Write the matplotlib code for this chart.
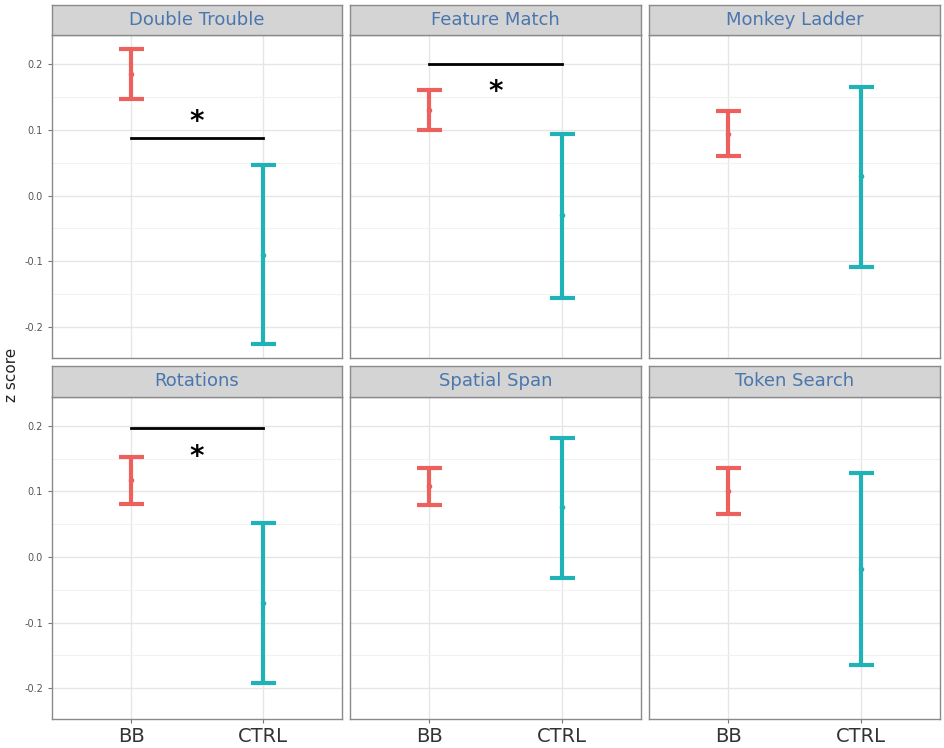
import matplotlib
matplotlib.use("Agg")
import matplotlib.pyplot as plt
import numpy as np

# data
tasks = ["Double Trouble", "Feature Match", "Monkey Ladder",
         "Rotations", "Spatial Span", "Token Search"]
groups = ["BB", "CTRL"]

bb_mean = [0.185, 0.130, 0.094, 0.117, 0.108, 0.101]
bb_low = [0.147, 0.100, 0.060, 0.081, 0.079, 0.066]
bb_high = [0.222, 0.160, 0.128, 0.152, 0.136, 0.135]

ctrl_mean = [-0.090, -0.030, 0.029, -0.070, 0.076, -0.019]
ctrl_low = [-0.225, -0.156, -0.108, -0.192, -0.032, -0.165]
ctrl_high = [0.047, 0.094, 0.165, 0.052, 0.182, 0.128]

sig_line_y = [0.087, 0.200, None, 0.196, None, None]
sig_star_y = [0.112, 0.157, None, 0.153, None, None]

yticks = [-0.2, -0.1, 0.0, 0.1, 0.2]

colors = ["#EC615E", "#1FB3B7"]

W, H = 945, 748
fig = plt.figure(figsize=(W / 100, H / 100), dpi=100)

col_x = [(52, 342), (350, 641), (649, 940)]
row_y = [(5, 35, 358), (366, 397, 719)]


def rect(x0, x1, y0, y1):
    return [x0 / W, 1 - y1 / H, (x1 - x0) / W, (y1 - y0) / H]


for i, task in enumerate(tasks):
    r, c = divmod(i, 3)
    x0, x1 = col_x[c]
    s_top, s_bot, p_bot = row_y[r]

    ax = fig.add_axes(rect(x0, x1, s_bot, p_bot))
    ax.set_xlim(0.4, 2.6)
    ax.set_ylim(-0.247, 0.244)
    ax.set_axisbelow(True)

    ax.set_yticks(yticks)
    ax.set_yticks([-0.15, -0.05, 0.05, 0.15], minor=True)
    ax.set_xticks([1, 2])
    ax.grid(True, which="major", color="#E6E6E6", lw=1.0)
    ax.grid(True, which="minor", axis="y", color="#F2F2F2", lw=0.8)
    for sp in ax.spines.values():
        sp.set_color("#8A8A8A")
        sp.set_linewidth(1.0)

    if c == 0:
        ax.set_yticklabels(["-0.2", "-0.1", "0.0", "0.1", "0.2"],
                           fontsize=7, color="#555555")
        ax.tick_params(axis="y", which="major", length=3, color="#777777")
    else:
        ax.tick_params(axis="y", which="major", length=0, labelleft=False)
    ax.tick_params(axis="y", which="minor", length=0)

    if r == 1:
        ax.set_xticklabels(groups, fontsize=14, color="#333333")
        ax.tick_params(axis="x", length=3, color="#777777", pad=3)
    else:
        ax.tick_params(axis="x", length=0, labelbottom=False)

    means = [bb_mean[i], ctrl_mean[i]]
    lows = [bb_low[i], ctrl_low[i]]
    highs = [bb_high[i], ctrl_high[i]]
    for j in range(2):
        ax.errorbar([j + 1], [means[j]],
                    yerr=[[means[j] - lows[j]], [highs[j] - means[j]]],
                    fmt="o", ms=3, color=colors[j], ecolor=colors[j],
                    elinewidth=3, capsize=9, capthick=3, zorder=3)

    if sig_line_y[i] is not None:
        ax.plot([1, 2], [sig_line_y[i]] * 2, color="black", lw=2, zorder=4)
        ax.text(1.5, sig_star_y[i], "*", ha="center", va="center",
                fontsize=20, fontweight="bold", color="black", zorder=4)

    sax = fig.add_axes(rect(x0, x1, s_top, s_bot))
    sax.set_facecolor("#D4D4D4")
    sax.set_xticks([])
    sax.set_yticks([])
    for sp in sax.spines.values():
        sp.set_color("#8A8A8A")
        sp.set_linewidth(1.0)
    sax.text(0.5, 0.5, task, ha="center", va="center",
             fontsize=13, color="#4A76AE", transform=sax.transAxes)

fig.text(12 / W, 1 - 375 / H, "z score", rotation=90, ha="center",
         va="center", fontsize=11, color="#222222")

fig.savefig("out.png", dpi=100)
